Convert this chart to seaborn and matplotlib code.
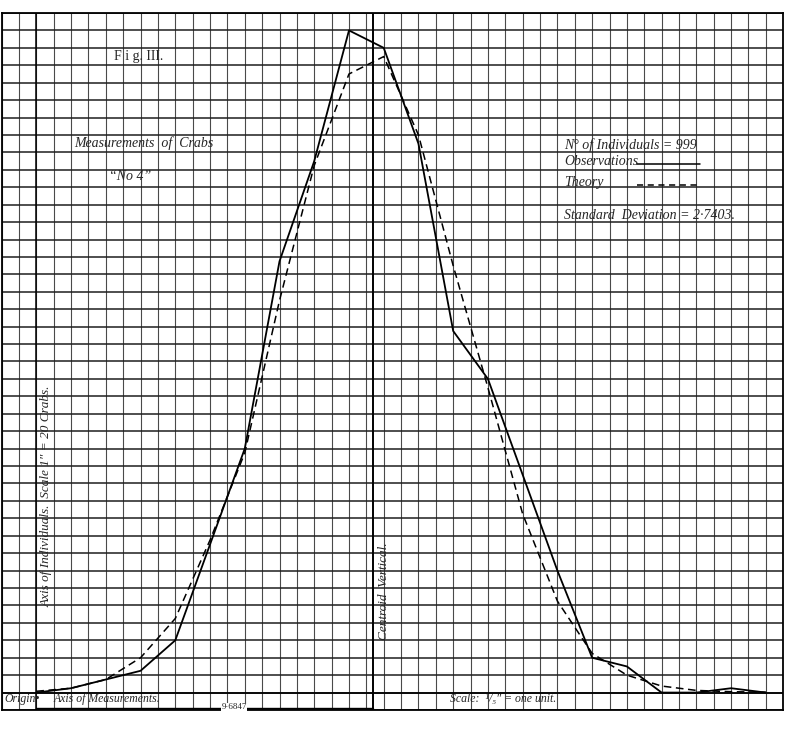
import numpy as np
import pandas as pd
import matplotlib.pyplot as plt
import seaborn as sns

# данные: единицы измерения (ось X) и число крабов
units = list(range(22))
observations = [0, 1, 3, 5, 12, 34, 56, 99, 122, 152, 148, 126, 83, 72, 50, 28, 8, 6, 0, 0, 1, 0]
theory = [0.3, 1, 3, 8, 17, 35, 55, 90, 121, 142, 146, 128, 98, 70, 41, 21, 9, 4, 1.5, 0.5, 0.2, 0.1]
centroid = 9.6847

df = pd.DataFrame({'unit': units * 2,
                   'count': observations + theory,
                   'kind': ['Observations'] * 22 + ['Theory'] * 22})

sns.set_style('white')
plt.rcParams['font.family'] = ['Liberation Serif', 'DejaVu Serif']

fig = plt.figure(figsize=(8, 7.54), dpi=100)
ax = fig.add_axes([0.002, 44 / 754, 0.977, 697 / 754])

x_min, x_max = -1, 21.5
y_min, y_max = -4, 156

# миллиметровка
for gx in np.arange(x_min, x_max + 0.01, 0.5):
    ax.axvline(gx, color='#4a4a4a', lw=0.8, zorder=1)
for gy in np.arange(y_min, y_max + 0.01, 4):
    ax.axhline(gy, color='#1e1e1e', lw=1.1, zorder=1)

ax.axvline(0, color='black', lw=1.1, zorder=2)
ax.axhline(0, color='black', lw=1.2, zorder=2)
ax.axvline(centroid, color='black', lw=1.4, zorder=2)

# кривые
sns.lineplot(data=df[df['kind'] == 'Observations'], x='unit', y='count',
             color='black', lw=1.3, ax=ax, zorder=3)
sns.lineplot(data=df[df['kind'] == 'Theory'], x='unit', y='count',
             color='black', lw=1.1, ax=ax, zorder=3, dashes=False,
             linestyle=(0, (5, 3)))

ax.set_xlim(x_min, x_max)
ax.set_ylim(y_min, y_max)
ax.set_xticks([])
ax.set_yticks([])
ax.set_xlabel('')
ax.set_ylabel('')
for s in ax.spines.values():
    s.set_color('black')
    s.set_linewidth(1.3)

ax.text(2.25, 146, 'F i g. III.', fontsize=10, ha='left', va='center', zorder=4)
ax.text(3.1, 126.2, 'Measurements  of  Crabs', fontsize=10, style='italic',
        ha='center', va='center', zorder=4)
ax.text(2.7, 118.5, '\u201cNo 4\u201d', fontsize=10, style='italic',
        ha='center', va='center', zorder=4)

# легенда
ax.text(15.2, 125.6, 'N\u00b0 of Individuals = 999', fontsize=10, style='italic',
        ha='left', va='center', zorder=4)
ax.text(15.2, 121.9, 'Observations', fontsize=10, style='italic',
        ha='left', va='center', zorder=4)
ax.plot([17.3, 19.1], [121.4, 121.4], color='black', lw=1.1, zorder=4)
ax.text(15.2, 117.1, 'Theory', fontsize=10, style='italic',
        ha='left', va='center', zorder=4)
ax.plot([17.3, 19.1], [116.6, 116.6], color='black', lw=1.1, ls=(0, (4, 3)), zorder=4)
ax.text(15.2, 109.5, 'Standard  Deviation = 2\u00b77403.', fontsize=10, style='italic',
        ha='left', va='center', zorder=4)

ax.text(0.3, 45, 'Axis of Individuals.  Scale 1\u2033 = 20 Crabs.', fontsize=9.5,
        style='italic', rotation=90, ha='center', va='center', zorder=4)
ax.text(10.0, 23.2, 'Centroid  Vertical.', fontsize=9.5, style='italic', rotation=90,
        ha='center', va='center', zorder=4)

ax.text(-0.93, -1.4, 'Origin\u2022', fontsize=8.5, style='italic', ha='left', va='center',
        zorder=4)
ax.text(0.5, -1.4, 'Axis of Measurements.', fontsize=8.5, style='italic', ha='left',
        va='center', zorder=4)
ax.text(11.9, -1.4, 'Scale:  \u00b9/\u2085\u2033 = one unit.', fontsize=8.5, style='italic',
        ha='left', va='center', zorder=4)

# скобка до центроида
ax.plot([0, centroid], [-3.6, -3.6], color='black', lw=1.0, zorder=4)
ax.text(5.7, -3.35, '9\u00b76847', fontsize=6.5, ha='center', va='center',
        bbox=dict(facecolor='white', edgecolor='none', pad=0.3), zorder=5)

fig.savefig('out.png', dpi=100, facecolor='white')
